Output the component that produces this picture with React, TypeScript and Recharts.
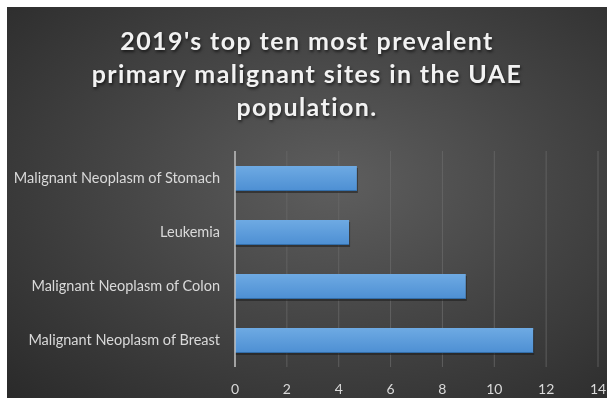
import { BarChart, Bar, XAxis, YAxis, CartesianGrid } from "recharts"

const categories = [
  "Malignant Neoplasm of Stomach",
  "Leukemia",
  "Malignant Neoplasm of Colon",
  "Malignant Neoplasm of Breast",
]
const values = [4.7, 4.4, 8.9, 11.5]
const xTicks = [0, 2, 4, 6, 8, 10, 12, 14]

const titleLines = ["2019's top ten most prevalent", "primary malignant sites in the UAE", "population."]

const data = categories.map((name, i) => ({ name, value: values[i] }))

const BarShape = (props: any) => {
  const { x, y, width, height, index } = props
  const id = `barGrad${index}`
  return (
    <g>
      <defs>
        <linearGradient id={id} x1="0" y1="0" x2="0" y2="1">
          <stop offset="0%" stopColor="#6eaae3" />
          <stop offset="100%" stopColor="#4d8fd3" />
        </linearGradient>
      </defs>
      <rect x={x} y={y + 2} width={width + 1} height={height} fill="#1c1c1c" opacity={0.55} />
      <rect x={x} y={y} width={width} height={height} fill={`url(#${id})`} />
      <line x1={x} x2={x + width} y1={y + height - 0.5} y2={y + height - 0.5} stroke="#336ea9" />
    </g>
  )
}

export default function App() {
  return (
    <div
      style={{
        position: "fixed",
        top: 7,
        left: 7,
        width: 600,
        height: 391,
        background: "radial-gradient(ellipse at 55% 45%, #5e5e5e 0%, #464646 45%, #2a2a2a 100%)",
        fontFamily: "Lato, 'Open Sans', sans-serif",
        overflow: "hidden",
      }}
    >
      <div
        style={{
          position: "absolute",
          top: 17,
          left: 0,
          width: 600,
          textAlign: "center",
          color: "#f2f2f2",
          fontWeight: 700,
          fontSize: 25,
          lineHeight: "33px",
          letterSpacing: 1.4,
          textShadow: "1px 2px 3px rgba(0,0,0,0.6)",
        }}
      >
        {titleLines.map((t) => (
          <div key={t}>{t}</div>
        ))}
      </div>
      <BarChart
        width={600}
        height={391}
        data={data}
        layout="vertical"
        margin={{ top: 144, right: 9, bottom: 0, left: 0 }}
        style={{ position: "absolute", top: 0, left: 0 }}
      >
        <CartesianGrid horizontal={false} stroke="#6a6a6a" strokeOpacity={0.75} />
        <XAxis
          type="number"
          domain={[0, 14]}
          ticks={xTicks}
          axisLine={false}
          tickLine={false}
          tickSize={6}
          tickMargin={11}
          height={31}
          interval={0}
          tick={{ fill: "#d9d9d9", fontSize: 14 }}
        />
        <YAxis
          type="category"
          dataKey="name"
          width={228}
          axisLine={{ stroke: "#bfbfbf", strokeWidth: 1.5 }}
          tickLine={false}
          tickSize={6}
          tickMargin={9}
          tick={{ fill: "#d9d9d9", fontSize: 14.5 }}
        />
        <Bar dataKey="value" barSize={25} shape={BarShape} isAnimationActive={false} />
      </BarChart>
    </div>
  )
}
